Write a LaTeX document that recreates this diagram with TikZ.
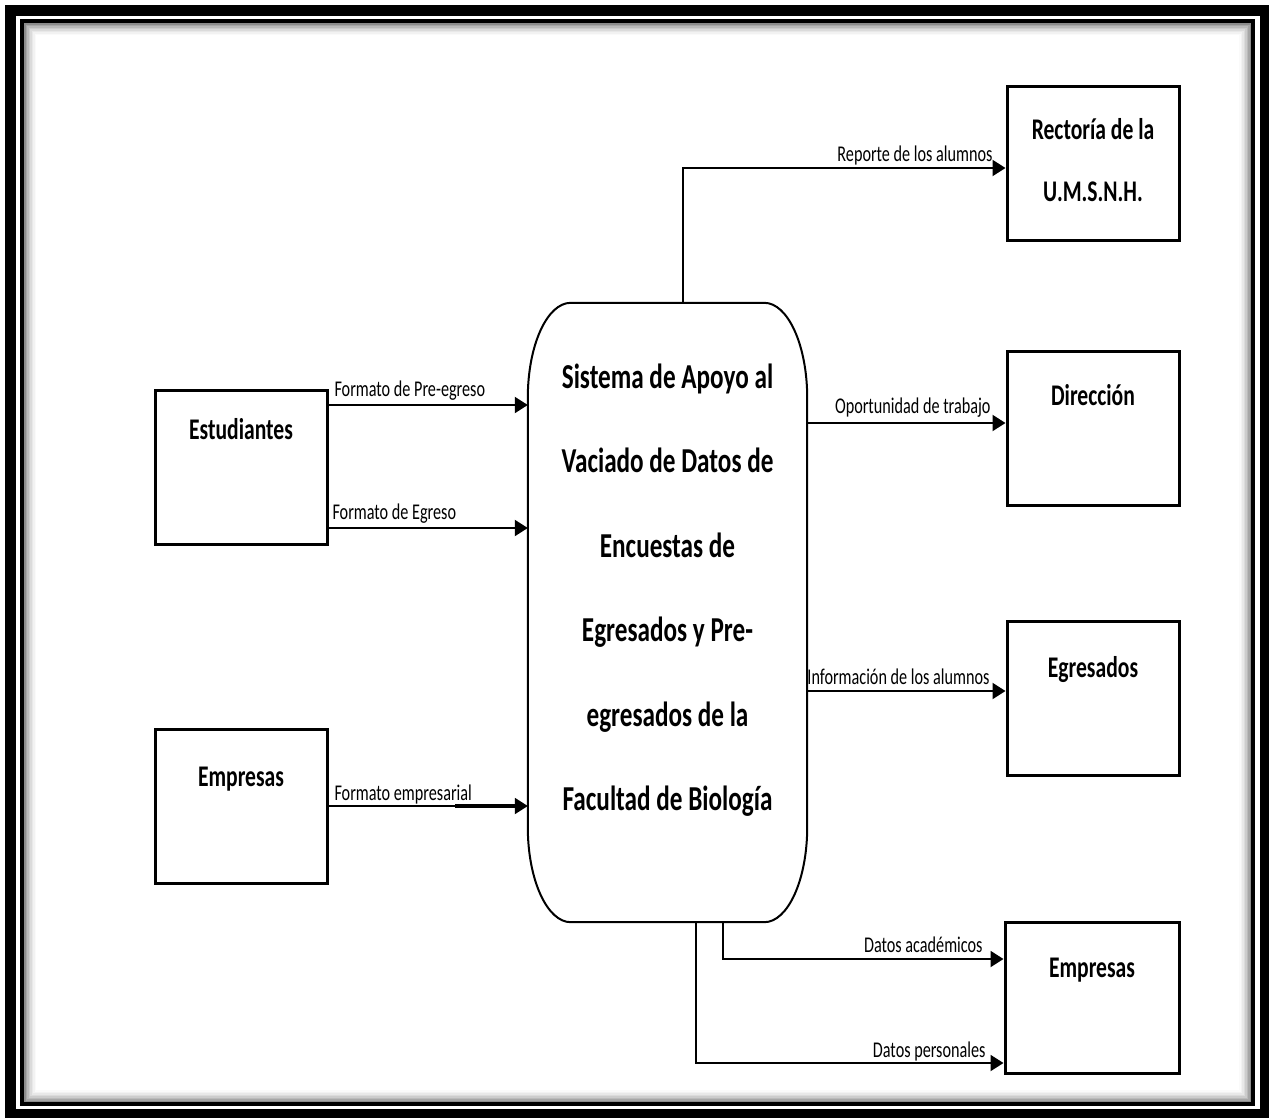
\documentclass[tikz,border=0pt]{standalone}
\usepackage{fontspec}
\setmainfont{Carlito}[FakeStretch=0.72]
\usetikzlibrary{arrows.meta,calc}

\begin{document}
\begin{tikzpicture}[x=1pt,y=-1pt,
  entity/.style={draw, line width=3pt, minimum width=172pt, minimum height=154pt, inner sep=0pt},
  ename/.style={font=\bfseries\fontsize{30}{36}\selectfont, inner sep=0pt, anchor=base},
  flow/.style={line width=2pt, -{Triangle[length=13pt,width=16pt]}},
  tag/.style={font=\fontsize{22.5}{27}\selectfont, inner sep=0pt},
  tagL/.style={tag, anchor=base west},
  tagR/.style={tag, anchor=base east}]

% page and frame
\useasboundingbox (0,0) rectangle (1269,1117);
\fill[white] (0,0) rectangle (1269,1117);
\draw[line width=11pt] (10.5,10) rectangle (1265.5,1114.5);
\draw[line width=4pt] (22,21) rectangle (1253,1104);
\foreach \i/\g in {1/45,2/35,3/27,4/20,5/14,6/9,7/5,8/2}{
  \pgfmathsetmacro\d{2+(\i-0.5)*1.5}
  \draw[black!\g, line width=1.5pt] (22+\d,21+\d) rectangle (1253-\d,1104-\d);
}

% external entities
\node[entity] (est) at (241,467) {};
\node[ename] (estT) at (241,439) {Estudiantes};
\node[entity] (empL) at (241,806.5) {};
\node[ename] (empLT) at (241,786) {Empresas};

\node[entity] (rec) at (1093,163.5) {};
\node[ename] (recT1) at (1093,139) {Rectoría de la};
\node[ename] (recT2) at (1093,201) {U.M.S.N.H.};
\node[entity] (dir) at (1093,428.5) {};
\node[ename] (dirT) at (1093,405) {Dirección};
\node[entity] (egr) at (1093,698.5) {};
\node[ename] (egrT) at (1093,677) {Egresados};
\node[entity, minimum width=174pt, minimum height=151pt] (empR) at (1092,997.5) {};
\node[ename] (empRT) at (1092,977) {Empresas};

% central process
\node[minimum width=279pt, minimum height=619pt, inner sep=0pt] (sys) at (667.5,612.5) {};
\draw[line width=2pt]
  ($(sys.north west)+(43,0)$) -- ($(sys.north east)+(-43,0)$)
  .. controls +(23.7,0) and +(0,-52.5) .. ($(sys.north east)+(0,95)$)
  -- ($(sys.south east)+(0,-95)$)
  .. controls +(0,52.5) and +(23.7,0) .. ($(sys.south east)+(-43,0)$)
  -- ($(sys.south west)+(43,0)$)
  .. controls +(-23.7,0) and +(0,52.5) .. ($(sys.south west)+(0,-95)$)
  -- ($(sys.north west)+(0,95)$)
  .. controls +(0,-52.5) and +(-23.7,0) .. ($(sys.north west)+(43,0)$) -- cycle;
\node[font=\bfseries\fontsize{35}{84.5}\selectfont, align=flush center, text width=279pt,
      inner sep=0pt, anchor=base] (sysT) at (667.5,388)
  {Sistema de Apoyo al\\Vaciado de Datos de\\Encuestas de\\Egresados y Pre-\\egresados de la\\Facultad de Biología};

% data flows into the system
\draw[flow] (est.east |- 0,405) -- (sys.west |- 0,405)
  node[tagL, at start, xshift=5pt, yshift=9pt] {Formato de Pre-egreso};
\draw[flow] (est.east |- 0,528) -- (sys.west |- 0,528)
  node[tagL, at start, xshift=3pt, yshift=9pt] {Formato de Egreso};
\draw[flow] (empL.east |- 0,806) -- (sys.west |- 0,806)
  node[tagL, at start, xshift=5pt, yshift=6pt] {Formato empresarial};
\draw[line width=4pt] (455,806) -- (518,806);

% data flows out of the system
\draw[flow] (sys.north -| 683,0) -- (683,168) -- (rec.west |- 0,168)
  node[tagR, at end, xshift=-12pt, yshift=7pt] {Reporte de los alumnos};
\draw[flow] (sys.east |- 0,423) -- (dir.west |- 0,423)
  node[tagR, at end, xshift=-14pt, yshift=10pt] {Oportunidad de trabajo};
\draw[flow] (sys.east |- 0,691) -- (egr.west |- 0,691)
  node[tagR, at end, xshift=-15pt, yshift=7pt] {Información de los alumnos};
\draw[flow] (sys.south -| 723,0) -- (723,959) -- (empR.west |- 0,959)
  node[tagR, at end, xshift=-20pt, yshift=7pt] {Datos académicos};
\draw[flow] (sys.south -| 696,0) -- (696,1063) -- (empR.west |- 0,1063)
  node[tagR, at end, xshift=-17pt, yshift=6pt] {Datos personales};
\end{tikzpicture}
\end{document}
